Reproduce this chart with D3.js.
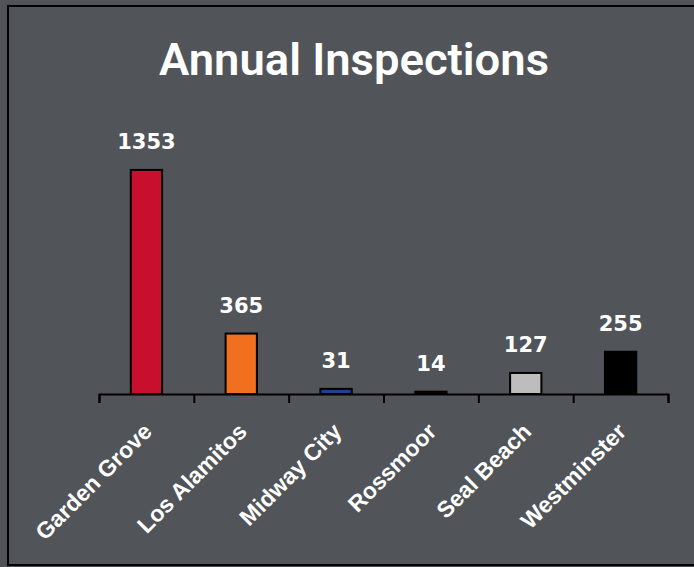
<!DOCTYPE html>
<html>
<head>
<meta charset="utf-8">
<script src="https://cdn.jsdelivr.net/npm/d3@7"></script>
<style>
  html, body { margin: 0; padding: 0; background: #4f5357; }
  svg { display: block; }
</style>
</head>
<body>
<div id="chart"></div>
<script>
'use strict';

// Chart data
const chartTitle = 'Annual Inspections';
const cities = ['Garden Grove', 'Los Alamitos', 'Midway City', 'Rossmoor', 'Seal Beach', 'Westminster'];
const inspections = [1353, 365, 31, 14, 127, 255];
const barColors = ['#c8102e', '#f07020', '#1f3f8f', '#111111', '#bdbdbd', '#000000'];

const width = 694, height = 567;
const margin = {top: 129, right: 26, bottom: 173, left: 99};

const svg = d3.select('#chart')
    .append('svg')
    .attr('width', width)
    .attr('height', height);

// panel with the black frame (right edge runs off the picture)
svg.append('rect')
    .attr('x', 8)
    .attr('y', 6)
    .attr('width', 700)
    .attr('height', 559)
    .attr('fill', '#515559')
    .attr('stroke', '#000')
    .attr('stroke-width', 2);

svg.append('text')
    .attr('x', 354)
    .attr('y', 75)
    .attr('text-anchor', 'middle')
    .attr('fill', '#ffffff')
    .attr('textLength', 390)
    .attr('lengthAdjust', 'spacingAndGlyphs')
    .style('font', '600 44px "Liberation Sans Narrow", Roboto, sans-serif')
    .text(chartTitle);

const xScale = d3.scaleBand()
    .domain(cities)
    .range([margin.left, width - margin.right])
    .paddingInner(0.67)
    .paddingOuter(0.335);

const yScale = d3.scaleLinear()
    .domain([0, 1600])
    .range([height - margin.bottom, margin.top]);

const baseY = yScale(0);

// bars
svg.append('g')
    .selectAll('rect')
    .data(inspections)
    .join('rect')
        .attr('x', (d, i) => xScale(cities[i]))
        .attr('y', d => yScale(d))
        .attr('width', xScale.bandwidth())
        .attr('height', d => baseY - yScale(d))
        .attr('fill', (d, i) => barColors[i])
        .attr('stroke', '#000')
        .attr('stroke-width', 2);

// value labels
svg.append('g')
    .selectAll('text')
    .data(inspections)
    .join('text')
        .attr('x', (d, i) => xScale(cities[i]) + xScale.bandwidth() / 2)
        .attr('y', d => yScale(d) - 21)
        .attr('text-anchor', 'middle')
        .attr('fill', '#ffffff')
        .style('font', 'bold 21px "DejaVu Sans", sans-serif')
        .text(d => d);

// axis: ticks sit on the category boundaries
const tickScale = d3.scaleLinear()
    .domain([0, cities.length])
    .range([margin.left, width - margin.right]);

svg.append('g')
    .attr('transform', `translate(0,${baseY})`)
    .call(d3.axisBottom(tickScale)
        .ticks(cities.length)
        .tickSize(9)
        .tickSizeOuter(9)
        .tickFormat(''))
    .call(g => g.selectAll('line, path').attr('stroke', '#000').attr('stroke-width', 2));

// rotated category labels
svg.append('g')
    .selectAll('text')
    .data(cities)
    .join('text')
        .attr('transform', d => `translate(${xScale(d) + xScale.bandwidth() / 2 + 7},${baseY + 39}) rotate(-45)`)
        .attr('text-anchor', 'end')
        .attr('fill', '#ffffff')
        .style('font', 'bold 23px "Liberation Sans", Arial, sans-serif')
        .text(d => d);
</script>
</body>
</html>
